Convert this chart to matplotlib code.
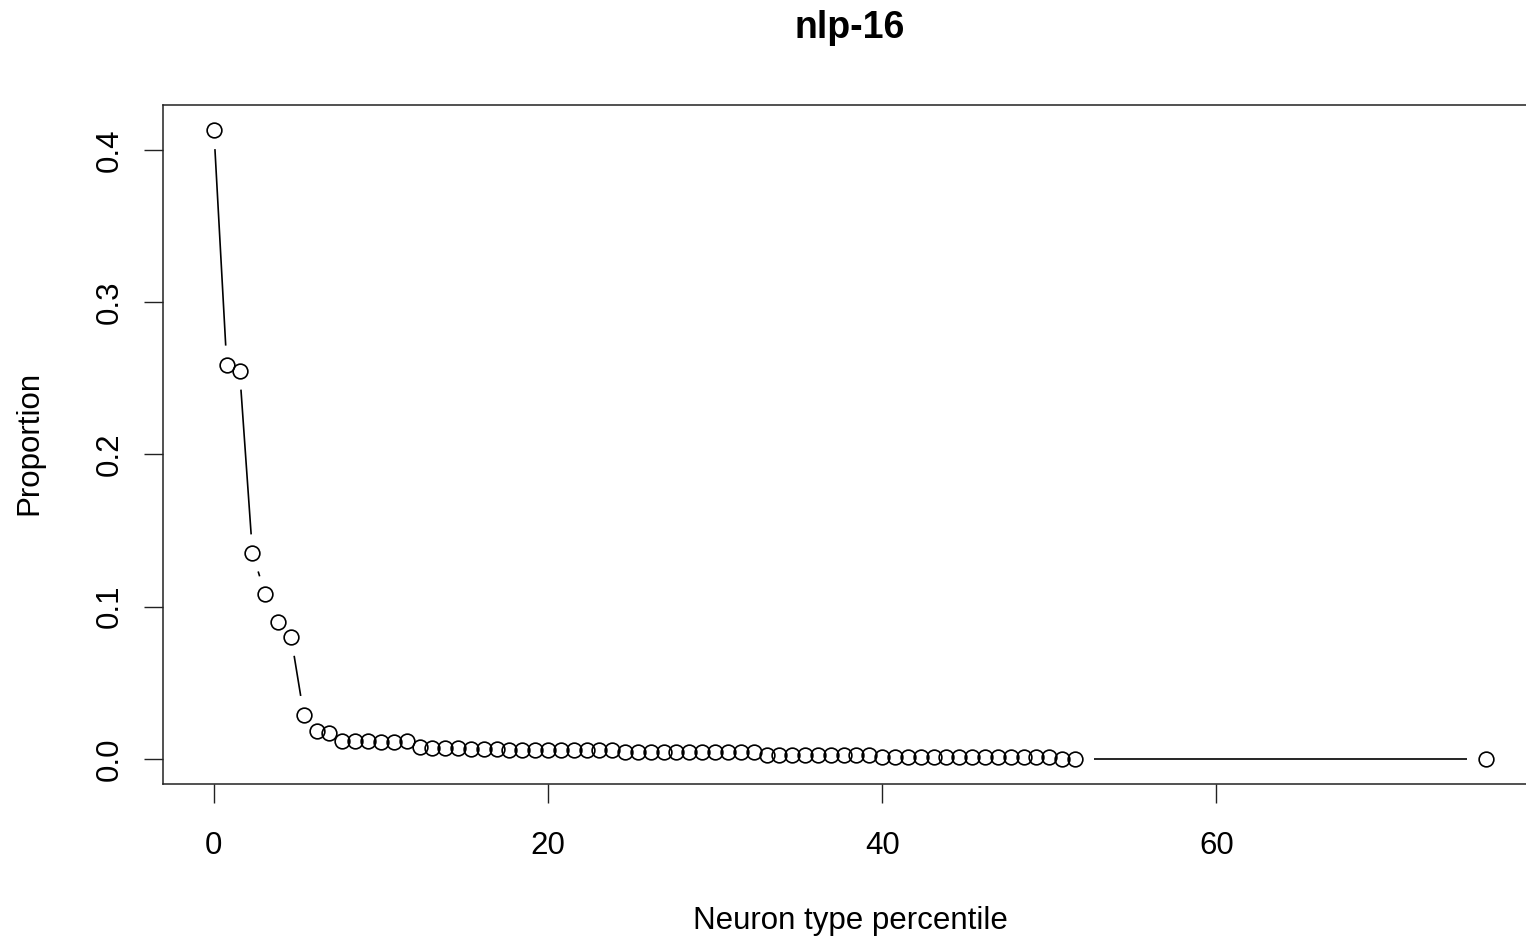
import numpy as np
import matplotlib
matplotlib.use("Agg")
import matplotlib.pyplot as plt

# ---- data ----
x_values = [0.00, 0.77, 1.54, 2.31, 3.08, 3.85, 4.62, 5.38, 6.15, 6.92,
            7.69, 8.46, 9.23, 10.00, 10.77, 11.54, 12.31, 13.08, 13.85, 14.62,
            15.38, 16.15, 16.92, 17.69, 18.46, 19.23, 20.00, 20.77, 21.54, 22.31,
            23.08, 23.85, 24.62, 25.38, 26.15, 26.92, 27.69, 28.46, 29.23, 30.00,
            30.77, 31.54, 32.31, 33.08, 33.85, 34.62, 35.38, 36.15, 36.92, 37.69,
            38.46, 39.23, 40.00, 40.77, 41.54, 42.31, 43.08, 43.85, 44.62, 45.38,
            46.15, 46.92, 47.69, 48.46, 49.23, 50.00, 50.77, 51.54, 76.15]
y_values = [0.413, 0.259, 0.255, 0.135, 0.108, 0.090, 0.080, 0.029, 0.018, 0.017,
            0.012, 0.012, 0.012, 0.011, 0.011, 0.012, 0.008, 0.007, 0.007, 0.007,
            0.0068, 0.0068, 0.0068, 0.006, 0.006, 0.006, 0.006,
            0.0057, 0.0057, 0.0057, 0.0057, 0.0057,
            0.0042, 0.0042, 0.0042, 0.0042, 0.0042, 0.0042, 0.0042, 0.0042, 0.0042, 0.0042, 0.0042,
            0.0024, 0.0024, 0.0024, 0.0024, 0.0024, 0.0024, 0.0024, 0.0024, 0.0024,
            0.0009, 0.0009, 0.0009, 0.0009, 0.0009, 0.0009, 0.0009, 0.0009, 0.0009, 0.0009,
            0.0009, 0.0009, 0.0009, 0.0009,
            0.0, 0.0, 0.0]
x_ticks = [0, 20, 40, 60]
y_ticks = [0.0, 0.1, 0.2, 0.3, 0.4]
y_tick_labels = ["0.0", "0.1", "0.2", "0.3", "0.4"]
title = "nlp-16"
x_label = "Neuron type percentile"
y_label = "Proportion"

plt.rcParams['font.family'] = ['Liberation Sans', 'DejaVu Sans']

W, H = 1526, 941
fig = plt.figure(figsize=(W / 100, H / 100), dpi=100)
ax_left, ax_right, ax_top, ax_bottom = 163, 1537, 105, 784
ax = fig.add_axes([ax_left / W, 1 - ax_bottom / H,
                   (ax_right - ax_left) / W, (ax_bottom - ax_top) / H])

x = np.array(x_values)
y = np.array(y_values)
xr = x.max() - x.min()
yr = y.max() - y.min()
ax.set_xlim(x.min() - 0.04 * xr, x.max() + 0.04 * xr)
ax.set_ylim(y.min() - 0.04 * yr, y.max() + 0.04 * yr)

# points
ax.plot(x, y, linestyle='none', marker='o', ms=10.6, mfc='none',
        mec='black', mew=1.2, zorder=3)

# R type="b" style lines: segments with gaps around points
pts = ax.transData.transform(np.column_stack([x, y]))
gap = 19.0
inv = ax.transData.inverted()
for i in range(len(pts) - 1):
    p, q = pts[i], pts[i + 1]
    d = q - p
    L = np.hypot(*d)
    if L > 2 * gap:
        u = d / L
        a = inv.transform(p + u * gap)
        b = inv.transform(q - u * gap)
        ax.plot([a[0], b[0]], [a[1], b[1]], color='black', lw=1.2,
                solid_capstyle='butt', zorder=2)

ax.set_xticks(x_ticks)
ax.set_xticklabels([str(t) for t in x_ticks])
ax.set_yticks(y_ticks)
ax.set_yticklabels(y_tick_labels, rotation=90, va='center')
ax.tick_params(axis='both', length=13.7, width=1.0, labelsize=22.5,
               color='#222222')
ax.tick_params(axis='x', pad=20)
ax.tick_params(axis='y', pad=14)
for s in ax.spines.values():
    s.set_linewidth(1.1)
    s.set_color('#222222')

fig.text(850 / W, 1 - 28 / H, title, ha='center', va='center',
         fontsize=27, fontweight='bold')
fig.text(850 / W, 1 - 921 / H, x_label, ha='center', va='center', fontsize=22.5)
fig.text(29 / W, 1 - 443 / H, y_label, ha='center', va='center',
         rotation=90, fontsize=22.5)

fig.savefig("out.png", dpi=100)
